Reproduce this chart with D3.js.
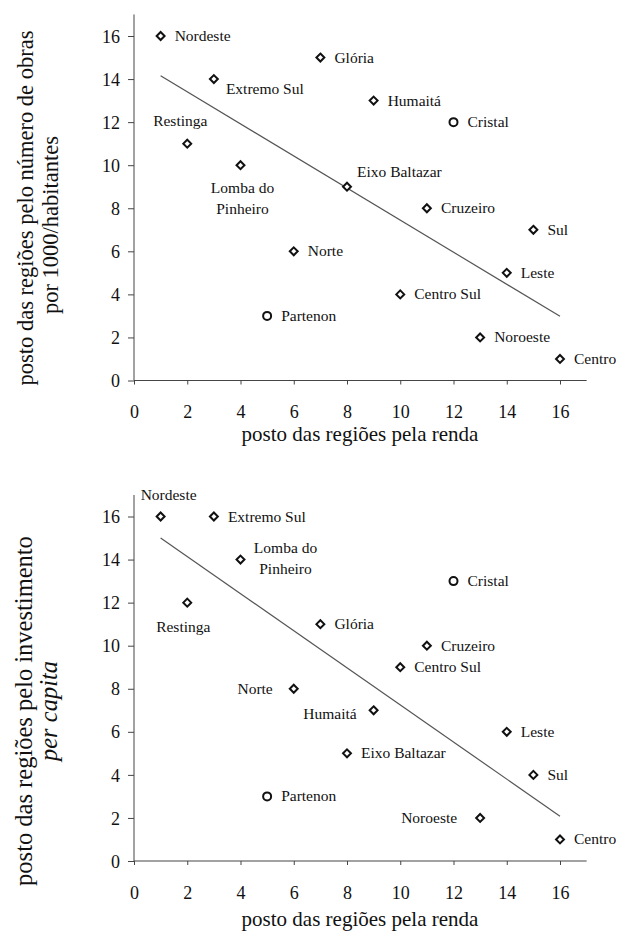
<!DOCTYPE html>
<html>
<head>
<meta charset="utf-8">
<script src="https://cdn.jsdelivr.net/npm/d3@7"></script>
<style>
  body { margin: 0; background: #fff; }
  svg text { font-family: "Liberation Serif", serif !important; }
</style>
</head>
<body>
<div id="chart-area"></div>
<script>
// regions and their ranks
const regions = ["Nordeste", "Restinga", "Extremo Sul", "Lomba do Pinheiro", "Partenon", "Norte",
  "Glória", "Eixo Baltazar", "Humaitá", "Centro Sul", "Cruzeiro", "Cristal", "Noroeste", "Leste", "Sul", "Centro"];
const rendaRank = [1, 2, 3, 4, 5, 6, 7, 8, 9, 10, 11, 12, 13, 14, 15, 16];
const obrasRank = [16, 11, 14, 10, 3, 6, 15, 9, 13, 4, 8, 12, 2, 5, 7, 1];
const investRank = [16, 12, 16, 14, 3, 8, 11, 5, 7, 9, 10, 13, 2, 6, 4, 1];
const circled = ["Partenon", "Cristal"];
const trendObras = [[1, 14.15], [16, 2.98]];
const trendInvest = [[1, 15.0], [16, 2.08]];
const tickVals = [0, 2, 4, 6, 8, 10, 12, 14, 16];
const xTitle = "posto das regiões pela renda";

// label placement (dx, dy, anchor) per chart
const labelsTop = {
  "Restinga": [-7, -18, "middle"],
  "Extremo Sul": [12, 15, "start"],
  "Lomba do Pinheiro": [2, 28, "middle", true],
  "Eixo Baltazar": [10, -10, "start"]
};
const labelsBottom = {
  "Nordeste": [-20, -17, "start"],
  "Lomba do Pinheiro": [45, -7, "middle", true],
  "Restinga": [-4, 29, "middle"],
  "Norte": [-21, 5, "end"],
  "Humaitá": [-17, 9, "end"],
  "Noroeste": [-23, 5, "end"]
};

const svg = d3.select("#chart-area").append("svg")
  .attr("width", 619)
  .attr("height", 931);

function drawPanel(top, yVals, trend, labelPos, yt) {
  const x = d3.scaleLinear().domain([0, 16]).range([134, 560]);
  const y = d3.scaleLinear().domain([0, 16]).range([top + 344.5, top]);
  const g = svg.append("g");

  // axes
  const xAxis = d3.axisBottom(x).tickValues(tickVals).tickSize(4).tickPadding(21);
  const yAxis = d3.axisLeft(y).tickValues(tickVals).tickSize(6).tickPadding(8);
  const gx = g.append("g").attr("transform", `translate(0,${y(0)})`).call(xAxis);
  const gy = g.append("g").attr("transform", `translate(${x(0)},0)`).call(yAxis);
  gx.select(".domain").attr("d", `M${x(0)},0H${x(17)}`);
  gy.select(".domain").attr("d", `M0,${y(0)}V${y(17)}`);
  [gx, gy].forEach(a => {
    a.attr("font-family", null).attr("font-size", 18);
    a.selectAll("text").attr("fill", "#111");
    a.selectAll("line, path").attr("stroke", "#444");
  });
  gy.selectAll("text").attr("dy", "0.34em");

  // trend line
  g.append("line")
    .attr("x1", x(trend[0][0])).attr("y1", y(trend[0][1]))
    .attr("x2", x(trend[1][0])).attr("y2", y(trend[1][1]))
    .attr("stroke", "#555").attr("stroke-width", 1.2);

  const data = regions.map((r, i) => ({ name: r, x: rendaRank[i], y: yVals[i] }));

  // markers
  g.selectAll("path.pt")
    .data(data.filter(d => !circled.includes(d.name)))
    .enter().append("path")
    .attr("class", "pt")
    .attr("d", d3.symbol(d3.symbolDiamond2, 40))
    .attr("transform", d => `translate(${x(d.x)},${y(d.y)})`)
    .attr("fill", "#fff").attr("stroke", "#111").attr("stroke-width", 2);
  g.selectAll("circle.pt")
    .data(data.filter(d => circled.includes(d.name)))
    .enter().append("circle")
    .attr("class", "pt")
    .attr("cx", d => x(d.x)).attr("cy", d => y(d.y)).attr("r", 4)
    .attr("fill", "#fff").attr("stroke", "#111").attr("stroke-width", 2);

  // labels
  data.forEach(d => {
    const p = labelPos[d.name] || [14, 5, "start"];
    const t = g.append("text")
      .attr("x", x(d.x) + p[0]).attr("y", y(d.y) + p[1])
      .attr("text-anchor", p[2])
      .attr("font-size", 15.5)
      .attr("fill", "#111");
    if (p[3]) {
      ["Lomba do", "Pinheiro"].forEach((s, k) =>
        t.append("tspan").attr("x", x(d.x) + p[0]).attr("dy", k ? 21 : 0).text(s));
    } else {
      t.text(d.name);
    }
  });

  // axis titles
  g.append("text")
    .attr("x", 360).attr("y", y(0) + yt.xOff)
    .attr("text-anchor", "middle")
    .attr("font-size", 21)
    .attr("fill", "#111")
    .text(xTitle);

  const t = g.append("text")
    .attr("transform", `translate(${yt.bx},${yt.cy}) rotate(-90)`)
    .attr("text-anchor", "middle")
    .attr("font-size", yt.size)
    .attr("fill", "#111");
  t.append("tspan").attr("x", 0).attr("dy", 0).text(yt.lines[0]);
  t.append("tspan").attr("x", yt.shift2).attr("dy", 25)
    .attr("font-style", yt.italic ? "italic" : "normal")
    .text(yt.lines[1]);
}

drawPanel(36, obrasRank, trendObras, labelsTop,
  { lines: ["posto das regiões pelo número de obras", "por 1000/habitantes"], italic: false,
    bx: 33, cy: 208, shift2: -17, size: 22.5, xOff: 60 });
drawPanel(516.5, investRank, trendInvest, labelsBottom,
  { lines: ["posto das regiões pelo investimento", "per capita"], italic: true,
    bx: 32, cy: 711, shift2: 0, size: 24.5, xOff: 65 });
</script>
</body>
</html>
